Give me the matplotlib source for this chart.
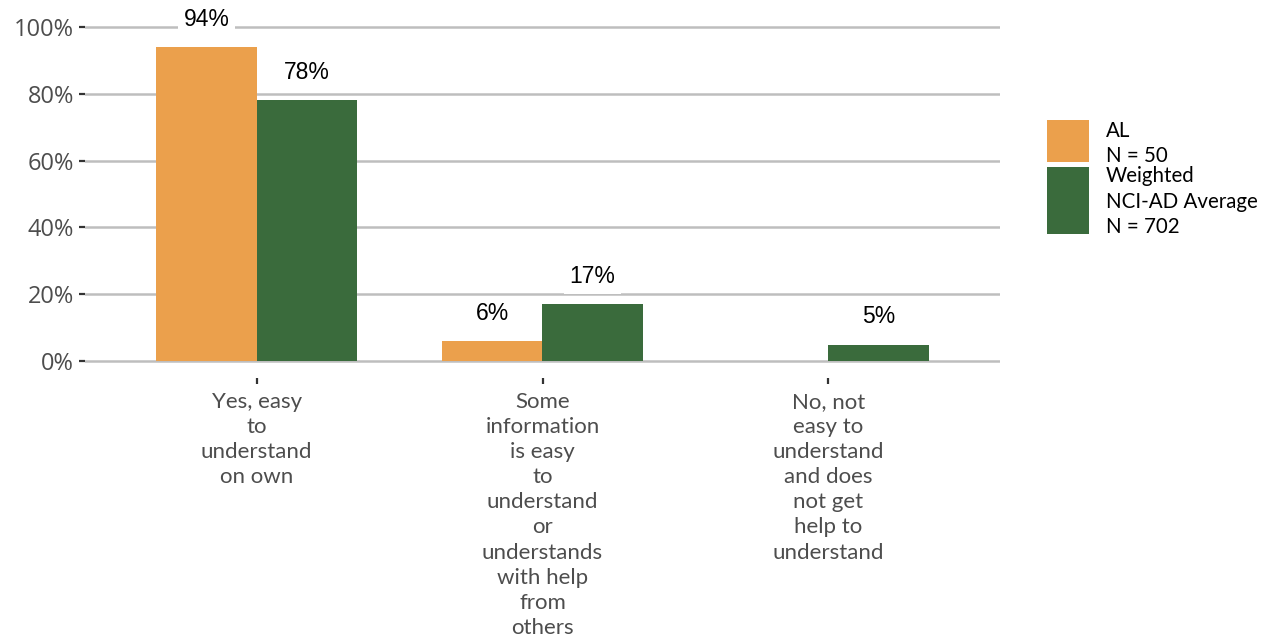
import matplotlib
matplotlib.use("Agg")
import matplotlib.pyplot as plt
from matplotlib.patches import Rectangle
import numpy as np

categories = ["Yes, easy\nto\nunderstand\non own",
              "Some\ninformation\nis easy\nto\nunderstand\nor\nunderstands\nwith help\nfrom\nothers",
              "No, not\neasy to\nunderstand\nand does\nnot get\nhelp to\nunderstand"]
series_names = ["AL\nN = 50", "Weighted\nNCI-AD Average\nN = 702"]
al_values = [0.94, 0.06, 0.0]
avg_values = [0.78, 0.17, 0.05]
yticks = [0, 0.2, 0.4, 0.6, 0.8, 1.0]
ytick_labels = ["0%", "20%", "40%", "60%", "80%", "100%"]
colors = ["#EBA04C", "#3A6B3C"]

W, H = 1261, 644
fig = plt.figure(figsize=(W / 100, H / 100), dpi=100)
ax = fig.add_axes([85 / W, 1 - 378 / H, (1000 - 85) / W, (378 - 10) / H])

x = np.arange(1, len(categories) + 1)
bw = 0.35
for i, (vals, col) in enumerate(zip([al_values, avg_values], colors)):
    pos = x + (i - 0.5) * bw
    for p, v in zip(pos, vals):
        if v > 0:
            ax.bar(p, v, width=bw, color=col, zorder=2)
            ax.text(p, v + 0.083, f"{round(v * 100):d}%", ha="center", va="center",
                    fontsize=16.5, family="Liberation Sans", color="black", zorder=3,
                    bbox=dict(facecolor="white", edgecolor="none", pad=4))

ax.set_xlim(0.4, 3.6)
ax.set_ylim(-0.05, 1.05)
ax.set_yticks(yticks)
ax.set_yticklabels(ytick_labels, fontsize=17, color="#4D4D4D", family="Open Sans")
ax.set_xticks(x)
ax.set_xticklabels(categories, fontsize=16, color="#4D4D4D", family="Lato",
                   linespacing=1.32, va="top")
for t in ax.get_xticklabels():
    t.set_multialignment("center")
ax.tick_params(axis="both", length=4, width=1.6, color="#333333")
ax.tick_params(axis="x", pad=6)
ax.tick_params(axis="y", pad=4)
ax.grid(axis="y", color="#BEBEBE", linewidth=1.8, zorder=0)
ax.set_axisbelow(True)
for s in ax.spines.values():
    s.set_visible(False)

# legend
key_tops = [120, 167]
key_heights = [42, 67]
text_tops = [131, 176]
for col, kt, kh, tt, name in zip(colors, key_tops, key_heights, text_tops, series_names):
    fig.add_artist(Rectangle((1047 / W, 1 - (kt + kh) / H), 42 / W, kh / H,
                             transform=fig.transFigure, facecolor=col, edgecolor="none"))
    for j, line in enumerate(name.split("\n")):
        fig.text(1106 / W, 1 - (tt + 25.5 * j) / H, line, ha="left", va="center",
                 fontsize=14.8, family="Lato", color="black")

fig.savefig("out.png", dpi=100)
